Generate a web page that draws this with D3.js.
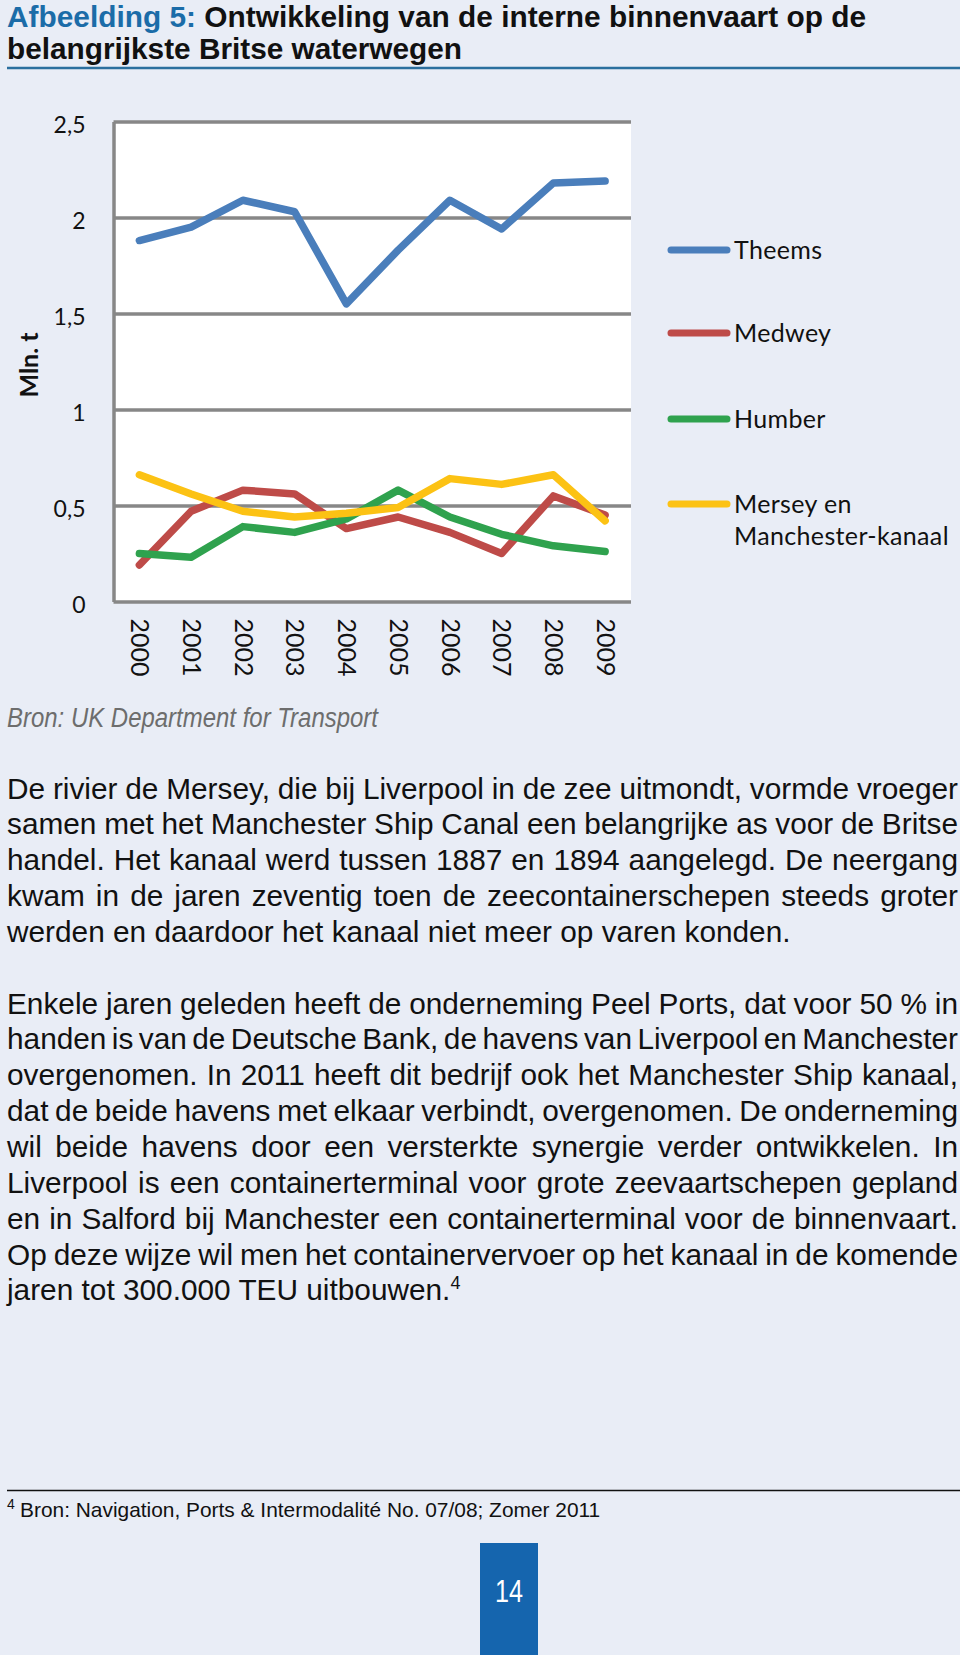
<!DOCTYPE html>
<html>
<head>
<meta charset="utf-8">
<script src="https://cdn.jsdelivr.net/npm/d3@7"></script>
<style>
body { margin: 0; background: #e9edf6; }
svg { display: block; }
</style>
</head>
<body>
<div id="vis"></div>
<script>
// Data
var years = ["2000", "2001", "2002", "2003", "2004", "2005", "2006", "2007", "2008", "2009"];
var theems = [1.88, 1.95, 2.09, 2.03, 1.55, 1.83, 2.09, 1.94, 2.18, 2.19];
var medwey = [0.19, 0.47, 0.58, 0.56, 0.38, 0.44, 0.36, 0.25, 0.55, 0.45];
var humber = [0.25, 0.23, 0.39, 0.36, 0.43, 0.58, 0.44, 0.35, 0.29, 0.26];
var mersey = [0.66, 0.56, 0.47, 0.44, 0.46, 0.49, 0.64, 0.61, 0.66, 0.42];
var seriesNames = ["Theems", "Medwey", "Humber", "Mersey en Manchester-kanaal"];
var yTicks = [0, 0.5, 1, 1.5, 2, 2.5];

var titleBlue = "Afbeelding 5:";
var titleRest = " Ontwikkeling van de interne binnenvaart op de";
var titleLine2 = "belangrijkste Britse waterwegen";
var sourceText = "Bron: UK Department for Transport";

var para1 = [
	"De rivier de Mersey, die bij Liverpool in de zee uitmondt, vormde vroeger",
	"samen met het Manchester Ship Canal een belangrijke as voor de Britse",
	"handel. Het kanaal werd tussen 1887 en 1894 aangelegd. De neergang",
	"kwam in de jaren zeventig toen de zeecontainerschepen steeds groter",
	"werden en daardoor het kanaal niet meer op varen konden."
];
var para2 = [
	"Enkele jaren geleden heeft de onderneming Peel Ports, dat voor 50 % in",
	"handen is van de Deutsche Bank, de havens van Liverpool en Manchester",
	"overgenomen. In 2011 heeft dit bedrijf ook het Manchester Ship kanaal,",
	"dat de beide havens met elkaar verbindt, overgenomen. De onderneming",
	"wil beide havens door een versterkte synergie verder ontwikkelen. In",
	"Liverpool is een containerterminal voor grote zeevaartschepen gepland",
	"en in Salford bij Manchester een containerterminal voor de binnenvaart.",
	"Op deze wijze wil men het containervervoer op het kanaal in de komende",
	"jaren tot 300.000 TEU uitbouwen."
];
var footnote = "Bron: Navigation, Ports & Intermodalité No. 07/08; Zomer 2011";
var pageNumber = "14";

// Layout
var W = 960, H = 1655;
var colors = ["#4a7ebb", "#be4b48", "#2fa24e", "#fcc214"];
var sans = "'Liberation Sans', Arial, sans-serif";
var chartFont = "Lato, 'Open Sans', sans-serif";

var svg = d3.select("#vis")
	.append("svg")
	.attr("width", W)
	.attr("height", H);

svg.append("rect").attr("width", W).attr("height", H).attr("fill", "#e9edf6");

// Title
var title = svg.append("text")
	.attr("x", 7).attr("y", 26.5)
	.attr("textLength", 859).attr("lengthAdjust", "spacingAndGlyphs")
	.style("font-family", sans).style("font-weight", "bold").style("font-size", "29.3px");
title.append("tspan").attr("fill", "#1b6ca8").text(titleBlue);
title.append("tspan").attr("fill", "#111").text(titleRest);
svg.append("text")
	.attr("x", 7).attr("y", 59)
	.attr("textLength", 455).attr("lengthAdjust", "spacingAndGlyphs")
	.style("font-family", sans).style("font-weight", "bold").style("font-size", "29.3px")
	.attr("fill", "#111")
	.text(titleLine2);
svg.append("line")
	.attr("x1", 7).attr("x2", W).attr("y1", 68).attr("y2", 68)
	.attr("stroke", "#2b6f9e").attr("stroke-width", 2.5);

// Chart
var plotL = 113.5, plotR = 631, plotT = 121.5, plotB = 601.5;

var x = d3.scalePoint()
	.domain(years)
	.range([plotL, plotR])
	.padding(0.5);

var y = d3.scaleLinear()
	.domain([0, 2.5])
	.range([plotB, plotT]);

svg.append("rect")
	.attr("x", plotL).attr("y", plotT)
	.attr("width", plotR - plotL).attr("height", plotB - plotT)
	.attr("fill", "#fff");

var yAxis = svg.append("g")
	.attr("class", "y-axis")
	.attr("transform", "translate(" + plotL + ",0)")
	.call(d3.axisLeft(y)
		.tickValues(yTicks)
		.tickSize(-(plotR - plotL))
		.tickSizeOuter(0)
		.tickPadding(28)
		.tickFormat(function(d) { return String(d).replace(".", ","); }));

yAxis.select(".domain").attr("stroke", "#878787").attr("stroke-width", 3.5);
yAxis.selectAll(".tick line").attr("stroke", "#878787").attr("stroke-width", 3.5);
yAxis.selectAll(".tick text")
	.attr("dy", "0.48em")
	.style("font-family", chartFont).style("font-size", "23px").attr("fill", "#111");

var xAxis = svg.append("g")
	.attr("class", "x-axis")
	.attr("transform", "translate(0," + plotB + ")")
	.call(d3.axisBottom(x).tickSize(0));

xAxis.select(".domain").remove();
xAxis.selectAll(".tick text")
	.attr("transform", "translate(0,17) rotate(90)")
	.attr("x", 0).attr("y", 0).attr("dy", "0.35em")
	.attr("text-anchor", "start")
	.style("font-family", chartFont).style("font-size", "25px").attr("fill", "#111");

svg.append("text")
	.attr("transform", "translate(29,365) rotate(-90)")
	.attr("text-anchor", "middle")
	.attr("dy", "0.35em")
	.style("font-family", chartFont).style("font-weight", "bold").style("font-size", "25px")
	.attr("fill", "#111")
	.text("Mln. t");

var series = [theems, medwey, humber, mersey];

var line = d3.line()
	.x(function(d, i) { return x(years[i]); })
	.y(function(d) { return y(d); });

svg.append("g")
	.attr("class", "lines")
	.selectAll("path")
	.data(series)
	.enter()
	.append("path")
	.attr("d", line)
	.attr("fill", "none")
	.attr("stroke", function(d, i) { return colors[i]; })
	.attr("stroke-width", 7.5)
	.attr("stroke-linecap", "round")
	.attr("stroke-linejoin", "round");

// Legend
var legendY = [250, 333, 419, 504];
var legend = svg.append("g")
	.attr("class", "legend")
	.selectAll("g")
	.data(seriesNames)
	.enter()
	.append("g")
	.attr("transform", function(d, i) { return "translate(0," + legendY[i] + ")"; });

legend.append("line")
	.attr("x1", 671).attr("x2", 727)
	.attr("stroke", function(d, i) { return colors[i]; })
	.attr("stroke-width", 7)
	.attr("stroke-linecap", "round");

legend.append("text")
	.attr("x", 734)
	.style("font-family", chartFont).style("font-size", "25px")
	.style("letter-spacing", "0.35px")
	.attr("fill", "#111")
	.each(function(d) {
		var parts = d === seriesNames[3] ? ["Mersey en", "Manchester-kanaal"] : [d];
		var t = d3.select(this);
		parts.forEach(function(p, k) {
			t.append("tspan").attr("x", 734).attr("dy", k === 0 ? "0.36em" : 32).text(p);
		});
	});

// Source
svg.append("text")
	.attr("x", 7).attr("y", 727)
	.attr("textLength", 371).attr("lengthAdjust", "spacingAndGlyphs")
	.style("font-family", sans).style("font-style", "italic").style("font-size", "27px")
	.attr("fill", "#6d6d6d")
	.text(sourceText);

// Body text, justified per line
var baseY = 798.5, lineH = 35.85, textW = 951;
var lines = [];
para1.forEach(function(t, i) { lines.push({t: t, row: i, last: i === para1.length - 1}); });
para2.forEach(function(t, i) { lines.push({t: t, row: 6 + i, last: i === para2.length - 1}); });

svg.append("g")
	.attr("class", "body")
	.selectAll("text")
	.data(lines)
	.enter()
	.append("text")
	.attr("x", 7)
	.attr("y", function(d) { return baseY + d.row * lineH; })
	.style("font-family", sans).style("font-size", "29.8px")
	.attr("fill", "#111")
	.text(function(d) { return d.t; })
	.each(function(d) {
		if (d.last) return;
		var w = this.getComputedTextLength();
		var n = d.t.split(" ").length - 1;
		d3.select(this).style("word-spacing", ((textW - w) / n) + "px");
	});

svg.select(".body").selectAll("text")
	.filter(function(d) { return d.row === 6 + para2.length - 1; })
	.append("tspan")
	.attr("dy", -11)
	.style("font-size", "18px")
	.text("4");

// Footnote
svg.append("line")
	.attr("x1", 7).attr("x2", W).attr("y1", 1490.5).attr("y2", 1490.5)
	.attr("stroke", "#111").attr("stroke-width", 1.5);
svg.append("text")
	.attr("x", 7).attr("y", 1509)
	.style("font-family", sans).style("font-size", "14px")
	.attr("fill", "#111")
	.text("4");
svg.append("text")
	.attr("x", 20).attr("y", 1517)
	.style("font-family", sans).style("font-size", "20.9px")
	.attr("fill", "#111")
	.text(footnote);

// Page number
svg.append("rect")
	.attr("x", 480).attr("y", 1543)
	.attr("width", 58).attr("height", H - 1543)
	.attr("fill", "#1565ae");
svg.append("text")
	.attr("x", 509).attr("y", 1602)
	.attr("text-anchor", "middle")
	.attr("textLength", 28).attr("lengthAdjust", "spacingAndGlyphs")
	.style("font-family", sans).style("font-size", "31px")
	.attr("fill", "#fff")
	.text(pageNumber);
</script>
</body>
</html>
